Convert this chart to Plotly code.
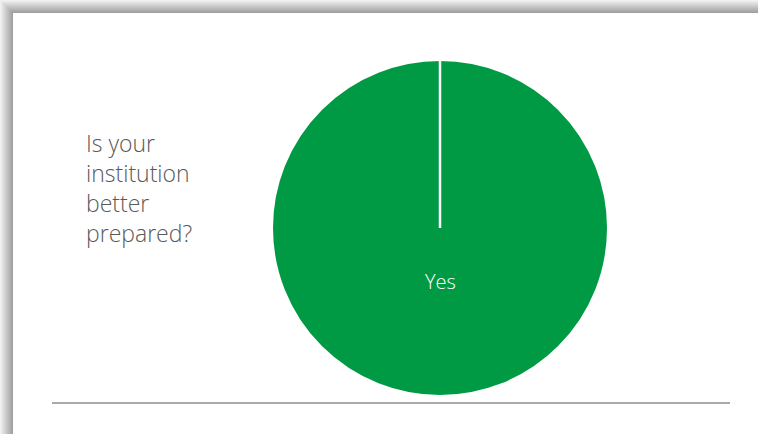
import plotly.graph_objects as go

labels = ["Yes"]
values = [100]
title_lines = ["Is your", "institution", "better", "prepared?"]

W, H = 758, 434
fig = go.Figure()

cx, cy, r = 440, 228, 168
fig.add_trace(go.Pie(
    labels=labels, values=values, sort=False, direction="clockwise", rotation=0,
    marker=dict(colors=["#009A44"], line=dict(color="white", width=2)),
    textinfo="none",
    domain=dict(x=[(cx - r) / W, (cx + r) / W], y=[1 - (cy + r) / H, 1 - (cy - r) / H]),
    showlegend=False, hoverinfo="label+percent",
))

shapes = []
# shadow: left and top gradient
n = 13
for i in range(n):
    g = int(248 - (248 - 160) * (i + 1) / n)
    col = f"rgb({g},{g},{g})"
    shapes.append(dict(type="rect", xref="paper", yref="paper",
                       x0=i / W, x1=(i + 1) / W, y0=0, y1=1 - i / H,
                       line=dict(width=0), fillcolor=col, layer="below"))
    shapes.append(dict(type="rect", xref="paper", yref="paper",
                       x0=i / W, x1=1, y0=1 - (i + 1) / H, y1=1 - i / H,
                       line=dict(width=0), fillcolor=col, layer="below"))
# white slide
shapes.append(dict(type="rect", xref="paper", yref="paper", x0=13 / W, x1=1, y0=0, y1=1 - 14 / H,
                   line=dict(width=0), fillcolor="white", layer="below"))
# bottom rule
shapes.append(dict(type="line", xref="paper", yref="paper", x0=52 / W, x1=730 / W,
                   y0=1 - 403 / H, y1=1 - 403 / H, line=dict(color="#8c8c8c", width=1.5)))
# radial slice border
shapes.append(dict(type="line", xref="paper", yref="paper", x0=cx / W, x1=cx / W,
                   y0=1 - cy / H, y1=1 - (cy - r) / H, line=dict(color="white", width=2.5)))

annotations = [
    dict(text="<br>".join(title_lines), xref="paper", yref="paper",
         x=84 / W, y=1 - 188 / H, xanchor="left", yanchor="middle", align="left",
         showarrow=False, font=dict(size=23, color="#595959", family="Open Sans", weight=300)),
    dict(text=labels[0], xref="paper", yref="paper",
         x=cx / W, y=1 - 281 / H, xanchor="center", yanchor="middle",
         showarrow=False, font=dict(size=20, color="white", family="Open Sans", weight=300)),
]

fig.update_layout(
    width=W, height=H, margin=dict(l=0, r=0, t=0, b=0),
    paper_bgcolor="white", plot_bgcolor="white",
    shapes=shapes, annotations=annotations,
)
fig.write_html("out.html")
